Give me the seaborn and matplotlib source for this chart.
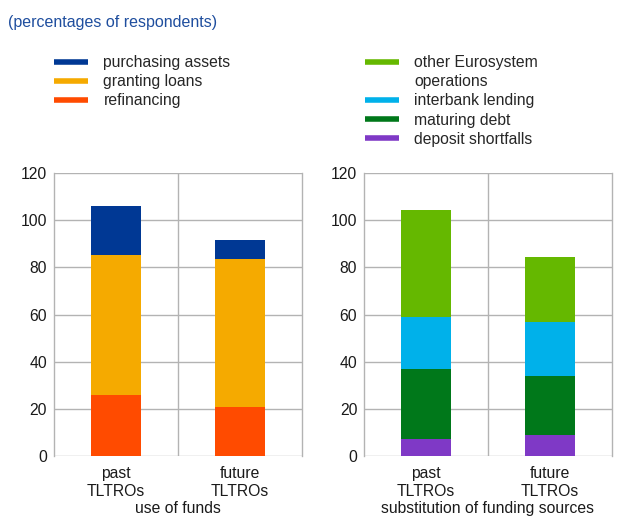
import numpy as np
import pandas as pd
import matplotlib
matplotlib.use("Agg")
import matplotlib.pyplot as plt
from matplotlib.lines import Line2D
import seaborn as sns

sns.set_style("white")
plt.rcParams['font.family'] = ['Liberation Sans', 'DejaVu Sans']

# Datos
periodos = ["past\nTLTROs", "future\nTLTROs"]

# uso de fondos (de abajo hacia arriba)
uso_series = ["refinancing", "granting loans", "purchasing assets"]
refinancing = [26, 21]
granting_loans = [59, 62.5]
purchasing_assets = [21, 8]

# sustitucion de fuentes (de abajo hacia arriba)
sust_series = ["deposit shortfalls", "maturing debt", "interbank lending",
               "other Eurosystem operations"]
deposit_shortfalls = [7.3, 9]
maturing_debt = [29.7, 25]
interbank_lending = [22, 23]
other_eurosystem = [45.3, 27.3]

colores = {
    "purchasing assets": "#003894",
    "granting loans": "#f5aa00",
    "refinancing": "#ff4b00",
    "other Eurosystem operations": "#65b800",
    "interbank lending": "#00b1ea",
    "maturing debt": "#00781a",
    "deposit shortfalls": "#7f39c6",
}

gris = "#b3b3b3"
fs = 11.3


def barras_apiladas(ax, series, valores, xlabel):
    acumulado = np.cumsum(np.array(valores), axis=0)
    # dibujar de la mas alta a la mas baja para simular el apilado
    for nombre, tope in reversed(list(zip(series, acumulado))):
        df = pd.DataFrame({"periodo": periodos, "valor": tope})
        sns.barplot(data=df, x="periodo", y="valor", color=colores[nombre],
                    width=0.4, saturation=1, linewidth=0, ax=ax, zorder=3)
    ax.set_xlim(-0.5, 1.5)
    ax.set_ylim(0, 120)
    ax.set_yticks(range(0, 121, 20))
    ax.yaxis.grid(True, color=gris, linewidth=1, zorder=0)
    ax.axvline(0.5, color=gris, linewidth=1, zorder=0)
    ax.set_xticks([-0.5, 0.5, 1.5], minor=True)
    ax.tick_params(axis="x", which="minor", length=5, color=gris, width=1)
    ax.tick_params(axis="x", which="major", length=0, pad=7, labelsize=fs)
    ax.tick_params(axis="y", length=0, pad=5, labelsize=fs)
    for lado in ["top", "bottom"]:
        ax.spines[lado].set_visible(False)
    for lado in ["left", "right"]:
        ax.spines[lado].set_color(gris)
        ax.spines[lado].set_linewidth(1)
    ax.set_xlabel(xlabel, fontsize=fs, labelpad=1.5, color="#1a1a1a")
    ax.set_ylabel("")
    for t in ax.get_xticklabels():
        t.set_linespacing(1.22)
        t.set_color("#1a1a1a")
    for t in ax.get_yticklabels():
        t.set_color("#1a1a1a")


fig = plt.figure(figsize=(6.25, 5.19), dpi=100)
ax1 = fig.add_axes([0.0864, 0.1208, 0.3963, 0.5464])
ax2 = fig.add_axes([0.5829, 0.1208, 0.3958, 0.5464])

barras_apiladas(ax1, uso_series, [refinancing, granting_loans, purchasing_assets],
                "use of funds")
barras_apiladas(ax2, sust_series,
                [deposit_shortfalls, maturing_debt, interbank_lending, other_eurosystem],
                "substitution of funding sources")

fig.text(0.013, 0.956, "(percentages of respondents)", color="#1f4e9e",
         fontsize=11.5, va="center")


# Leyendas
def manija(nombre):
    if nombre is None:
        return Line2D([0], [0], color="none", linewidth=4)
    return Line2D([0], [0], color=colores[nombre], linewidth=4, solid_capstyle="butt")


ley_izq = [("purchasing assets", "purchasing assets"),
           ("granting loans", "granting loans"),
           ("refinancing", "refinancing")]
ley_der = [("other Eurosystem operations", "other Eurosystem"),
           (None, "operations"),
           ("interbank lending", "interbank lending"),
           ("maturing debt", "maturing debt"),
           ("deposit shortfalls", "deposit shortfalls")]

for entradas, x0 in [(ley_izq, 0.0864), (ley_der, 0.584)]:
    fig.legend([manija(n) for n, _ in entradas], [t for _, t in entradas],
               loc="upper left", bbox_to_anchor=(x0, 0.894), frameon=False,
               fontsize=fs, handlelength=2.15, handletextpad=1.0,
               labelspacing=0.27, borderaxespad=0, borderpad=0)

plt.savefig("out.png", dpi=100)
